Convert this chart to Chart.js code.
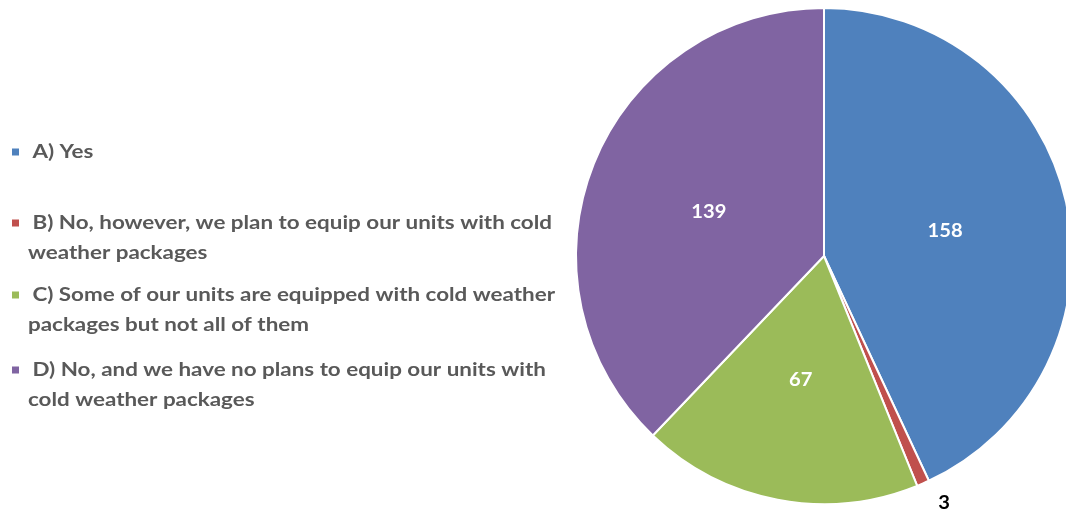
<!DOCTYPE html>
<html>
<head>
<meta charset="utf-8">
<script src="https://cdn.jsdelivr.net/npm/chart.js@4.4.1/dist/chart.umd.min.js"></script>
<style>
  html, body { margin: 0; padding: 0; background: #ffffff; overflow: hidden; }
  #wrap { position: relative; width: 1082px; height: 514px; }
</style>
</head>
<body>
<div id="wrap"><canvas id="c"></canvas></div>
<script>
// Survey answers: legend lines for each category
const categories = [
  [" A) Yes"],
  [" B) No, however, we plan to equip our units with cold", "weather packages"],
  [" C) Some of our units are equipped with cold weather", "packages but not all of them"],
  [" D) No, and we have no plans to equip our units with", "cold weather packages"]
];
const responses = [158, 3, 67, 139];
const sliceColors = ["#4F81BD", "#C0504D", "#9BBB59", "#8064A2"];

const FONT = "Lato, 'Open Sans', sans-serif";
const LEGEND_LINE_WIDTH = 528;   // widest legend line, in pixels

// Legend drawn at the left, with wrapped lines
const sideLegend = {
  id: "sideLegend",
  afterDraw(chart) {
    const ctx = chart.ctx;
    const rows = [152, 223, 295, 370];
    ctx.save();
    ctx.font = "bold 19px " + FONT;
    ctx.textBaseline = "middle";
    const widest = Math.max(...categories.flat().map(t => ctx.measureText(t).width));
    const sx = LEGEND_LINE_WIDTH / widest;
    categories.forEach((lines, i) => {
      const y = rows[i];
      ctx.fillStyle = sliceColors[i];
      ctx.fillRect(12, y - 3.5, 7, 7);
      ctx.fillStyle = "#595959";
      lines.forEach((ln, j) => {
        const x0 = j === 0 ? 27 : 28;
        ctx.save();
        ctx.translate(x0, y + j * 30);
        ctx.scale(sx, 1);
        ctx.fillText(ln, 0, 0);
        ctx.restore();
      });
    });
    ctx.restore();
  }
};

// Value labels on the slices
const valueLabels = {
  id: "valueLabels",
  afterDatasetsDraw(chart) {
    const ctx = chart.ctx;
    const meta = chart.getDatasetMeta(0);
    const total = responses.reduce((a, b) => a + b, 0);
    ctx.save();
    ctx.font = "bold 18px " + FONT;
    ctx.textAlign = "center";
    ctx.textBaseline = "middle";
    meta.data.forEach((arc, i) => {
      const v = responses[i];
      let px, py, color;
      if (v / total > 0.05) {
        const p = arc.tooltipPosition();
        px = p.x; py = p.y + 2; color = "#ffffff";
      } else {
        const a = (arc.startAngle + arc.endAngle) / 2;
        px = arc.x + Math.cos(a) * arc.outerRadius + 21;
        py = arc.y + Math.sin(a) * arc.outerRadius + 20;
        color = "#000000";
      }
      ctx.save();
      ctx.translate(px, py);
      ctx.scale(1.12, 1);
      ctx.fillStyle = color;
      ctx.fillText(String(v), 0, 0);
      ctx.restore();
    });
    ctx.restore();
  }
};

new Chart(document.getElementById("c"), {
  type: "pie",
  data: {
    labels: categories.map(l => l.join(" ").trim()),
    datasets: [{
      data: responses,
      backgroundColor: sliceColors,
      borderColor: "#ffffff",
      borderWidth: 2
    }]
  },
  options: {
    responsive: true,
    maintainAspectRatio: false,
    animation: false,
    layout: { padding: { left: 575, right: 9, top: 7, bottom: 9 } },
    plugins: {
      legend: { display: false },
      tooltip: { enabled: false }
    }
  },
  plugins: [sideLegend, valueLabels]
});
</script>
</body>
</html>
